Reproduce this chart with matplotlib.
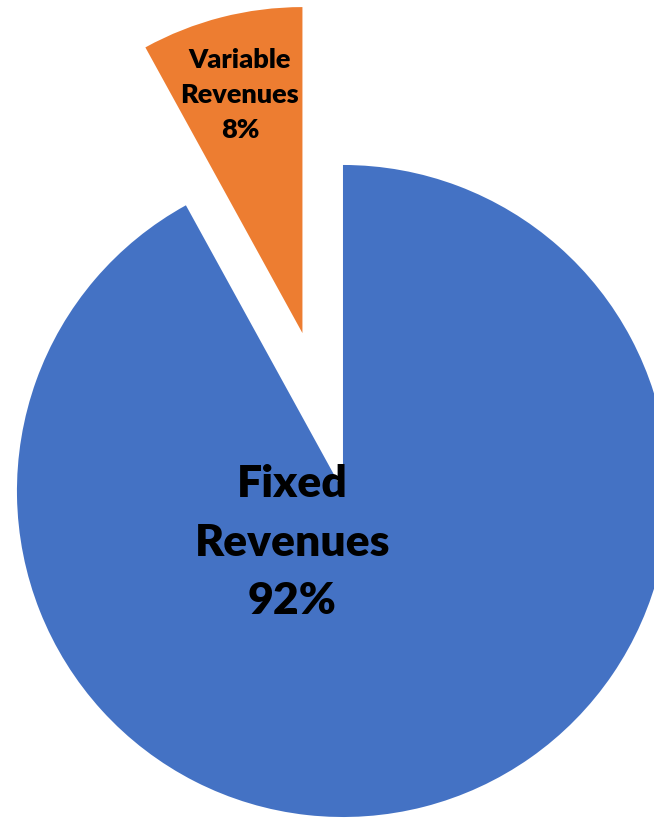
import matplotlib.pyplot as plt

# Revenue split
categories = ["Fixed\nRevenues", "Variable\nRevenues"]
shares = [92, 8]
colors = ["#4472C4", "#ED7D31"]
explode = [0, 0.5]

fig = plt.figure(figsize=(6.54, 8.2), dpi=100)
ax = fig.add_axes([0, 0, 1, 1])

wedges, _ = ax.pie(
    shares,
    colors=colors,
    explode=explode,
    startangle=90,
    counterclock=False,
    radius=1.0,
    wedgeprops={"linewidth": 0},
)

# label positions and sizes for each slice
label_pos = [(-0.155, -0.155), (-0.316, 1.218)]
label_size = [32, 19.5]
label_spacing = [1.56, 1.55]
for name, share, (lx, ly), fs, ls in zip(categories, shares, label_pos, label_size, label_spacing):
    ax.text(
        lx, ly, f"{name}\n{share}%",
        ha="center", va="center", multialignment="center",
        fontsize=fs, fontweight="heavy", family=["Lato", "DejaVu Sans"],
        linespacing=ls, color="black",
    )

ax.set_xlim(-1.052, 0.954)
ax.set_ylim(-1.006, 1.509)
ax.set_aspect("equal")
ax.axis("off")

plt.savefig("out.png", dpi=100)
